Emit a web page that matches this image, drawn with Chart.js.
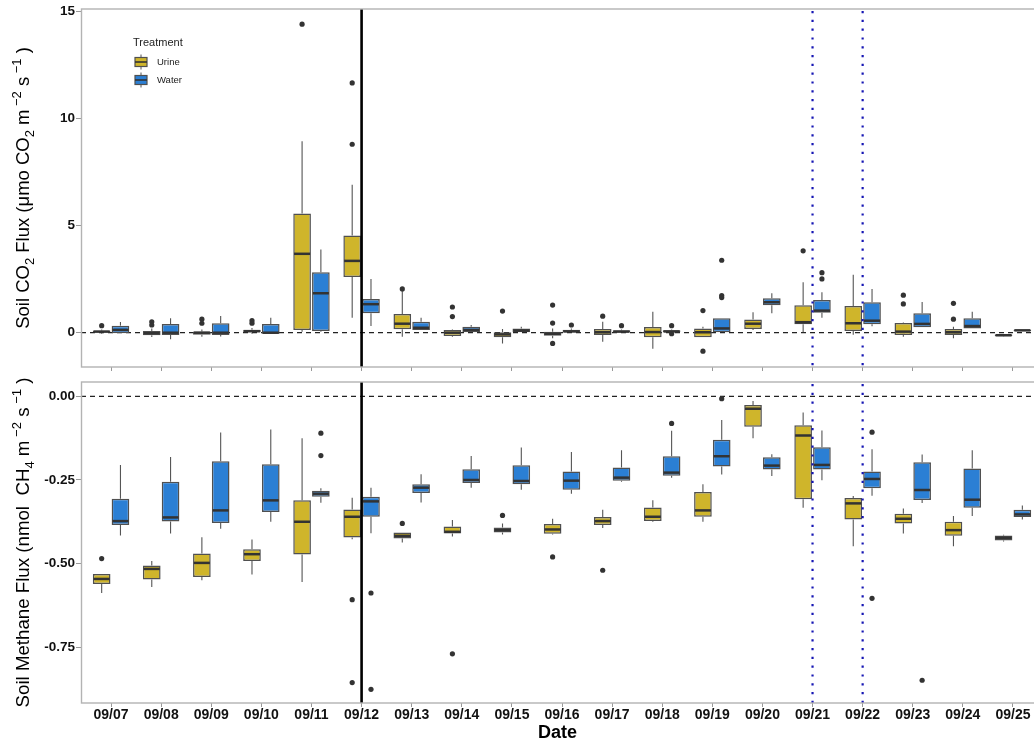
<!DOCTYPE html>
<html>
<head>
<meta charset="utf-8">
<script src="https://cdn.jsdelivr.net/npm/chart.js@4.4.1/dist/chart.umd.min.js"></script>
<style>
  body { margin: 0; background: #fff; }
  #wrap { position: relative; width: 1034px; height: 744px; overflow: hidden; }
  canvas { position: absolute; left: 0; }
</style>
</head>
<body>
<div id="wrap">
  <canvas id="co2" width="1034" height="372" style="top:0"></canvas>
  <canvas id="ch4" width="1034" height="372" style="top:372px"></canvas>
</div>
<script>
const dates = ['09/07','09/08','09/09','09/10','09/11','09/12','09/13','09/14','09/15','09/16',
               '09/17','09/18','09/19','09/20','09/21','09/22','09/23','09/24','09/25'];
const treatments = ['Urine', 'Water'];
const co2Ticks = [0, 5, 10, 15];
const ch4Ticks = [0, -0.25, -0.5, -0.75];
const solidLineDates = ['09/12'];
const dottedLineDates = ['09/21', '09/22'];

// each entry: [lower whisker, q1, median, q3, upper whisker]
const co2Urine = [
  [-0.05, 0, 0.05, 0.1, 0.15], [-0.2, -0.12, -0.02, 0.08, 0.2], [-0.19, -0.09, 0, 0.06, 0.15],
  [-0.05, 0, 0.07, 0.14, 0.22], [0.05, 0.13, 3.68, 5.56, 8.93], [0.7, 2.6, 3.35, 4.53, 6.9],
  [-0.19, 0.16, 0.42, 0.87, 1.95], [-0.19, -0.15, 0, 0.13, 0.15], [-0.5, -0.21, -0.08, 0.02, 0.17],
  [-0.26, -0.14, -0.05, 0.05, 0.2], [-0.42, -0.11, 0.02, 0.17, 0.51], [-0.75, -0.21, 0.03, 0.27, 0.98],
  [-0.21, -0.21, 0.02, 0.2, 0.28], [0.13, 0.17, 0.42, 0.61, 0.95], [0.02, 0.39, 0.49, 1.28, 2.35],
  [-0.1, 0.08, 0.44, 1.25, 2.7], [-0.19, -0.11, 0.05, 0.45, 0.48], [-0.26, -0.11, 0.02, 0.17, 0.28],
  [-0.17, -0.15, -0.12, -0.08, -0.06]
];
const co2UrineOut = [[0.33], [0.51, 0.36], [0.63, 0.44], [0.56, 0.44], [14.39], [11.65, 8.79],
  [2.04], [1.2, 0.75], [1.01], [1.29, 0.45, -0.5], [0.77], [], [1.03, -0.86], [], [3.82], [],
  [1.75, 1.34], [1.37, 0.63], []];
const co2Water = [
  [-0.03, -0.03, 0.13, 0.33, 0.5], [-0.31, -0.11, 0, 0.41, 0.67], [-0.18, -0.11, 0, 0.44, 0.78],
  [-0.06, -0.05, 0, 0.41, 0.7], [0.05, 0.08, 1.84, 2.82, 3.88], [0.31, 0.91, 1.33, 1.57, 2.5],
  [0.13, 0.13, 0.23, 0.51, 0.7], [0.02, 0.02, 0.13, 0.28, 0.36], [0.02, 0.02, 0.1, 0.2, 0.28],
  [0, 0, 0.06, 0.14, 0.2], [0, 0, 0.05, 0.11, 0.15], [0, 0, 0.06, 0.11, 0.15],
  [0, 0, 0.2, 0.67, 0.67], [0.91, 1.28, 1.42, 1.61, 1.84], [0.7, 0.93, 1.03, 1.53, 1.89],
  [0.3, 0.39, 0.56, 1.42, 2.04], [0.25, 0.25, 0.41, 0.91, 1.43], [0.2, 0.2, 0.31, 0.67, 0.98],
  [0.08, 0.08, 0.11, 0.14, 0.14]
];
const co2WaterOut = [[], [], [], [], [], [], [], [], [], [0.36], [0.33], [0.33, -0.05],
  [3.38, 1.73, 1.64], [], [2.8, 2.51], [], [], [], []];

const ch4Urine = [
  [-0.588, -0.561, -0.546, -0.531, -0.531], [-0.57, -0.548, -0.516, -0.506, -0.492],
  [-0.55, -0.54, -0.498, -0.47, -0.421], [-0.533, -0.492, -0.472, -0.457, -0.428],
  [-0.555, -0.473, -0.375, -0.311, -0.125], [-0.427, -0.422, -0.36, -0.338, -0.303],
  [-0.437, -0.425, -0.417, -0.407, -0.407], [-0.419, -0.41, -0.405, -0.389, -0.37],
  [-0.413, -0.407, -0.4, -0.392, -0.38], [-0.413, -0.411, -0.398, -0.382, -0.366],
  [-0.394, -0.385, -0.373, -0.361, -0.339], [-0.375, -0.373, -0.36, -0.332, -0.311],
  [-0.375, -0.36, -0.341, -0.286, -0.263], [-0.125, -0.091, -0.037, -0.026, -0.014],
  [-0.333, -0.308, -0.117, -0.086, -0.048], [-0.448, -0.368, -0.32, -0.304, -0.298],
  [-0.41, -0.38, -0.366, -0.351, -0.335], [-0.448, -0.417, -0.4, -0.375, -0.358],
  [-0.434, -0.431, -0.423, -0.416, -0.414]
];
const ch4UrineOut = [[-0.485], [], [], [], [], [-0.608, -0.856], [-0.38], [-0.77], [-0.356],
  [-0.48], [-0.52], [], [], [], [], [], [], [], []];
const ch4Water = [
  [-0.416, -0.385, -0.373, -0.306, -0.205], [-0.41, -0.374, -0.362, -0.255, -0.181],
  [-0.396, -0.379, -0.341, -0.194, -0.108], [-0.375, -0.346, -0.311, -0.203, -0.099],
  [-0.318, -0.3, -0.291, -0.282, -0.275], [-0.409, -0.36, -0.314, -0.3, -0.273],
  [-0.317, -0.289, -0.273, -0.263, -0.233], [-0.273, -0.259, -0.25, -0.218, -0.178],
  [-0.279, -0.263, -0.253, -0.206, -0.153], [-0.291, -0.279, -0.252, -0.225, -0.166],
  [-0.255, -0.252, -0.243, -0.213, -0.161], [-0.243, -0.237, -0.228, -0.179, -0.103],
  [-0.234, -0.21, -0.179, -0.13, -0.071], [-0.238, -0.219, -0.207, -0.182, -0.173],
  [-0.251, -0.219, -0.205, -0.152, -0.102], [-0.297, -0.275, -0.247, -0.225, -0.158],
  [-0.319, -0.31, -0.28, -0.197, -0.174], [-0.358, -0.333, -0.309, -0.216, -0.161],
  [-0.368, -0.361, -0.353, -0.339, -0.326]
];
const ch4WaterOut = [[], [], [], [], [-0.11, -0.177], [-0.588, -0.876], [], [], [], [], [],
  [-0.081], [-0.007], [], [], [-0.107, -0.604], [-0.849], [], []];

const FONT = '"Liberation Sans", Arial, sans-serif';
const fills = ['#cfb52b', '#2b7fd4'];

function boxDataset(label, stats, outliers, color) {
  return {
    label: label,
    stats: stats,
    outliers: outliers,
    data: stats.map((s, i) => ({ x: i + 1, y: [s[1], s[3]] })),
    backgroundColor: color,
    borderColor: '#505050',
    borderWidth: 1.5,
    borderSkipped: false,
    categoryPercentage: 0.75,
    barPercentage: 0.94
  };
}

// draws text pieces with sub/superscripts along the current x direction, centred on 0
function drawRich(ctx, parts, size) {
  let total = 0;
  const items = parts.map(p => {
    const fs = (p.sub || p.sup) ? size * 0.7 : size;
    ctx.font = fs + 'px ' + FONT;
    const w = ctx.measureText(p.t).width;
    total += w;
    return { p, fs, w };
  });
  let x = -total / 2;
  items.forEach(({ p, fs, w }) => {
    ctx.font = fs + 'px ' + FONT;
    const dy = p.sub ? size * 0.25 : (p.sup ? -size * 0.45 : 0);
    ctx.fillText(p.t, x, dy);
    x += w;
  });
}

const boxPlugin = {
  id: 'boxplot',
  beforeDatasetsDraw(chart) {
    const { ctx, chartArea: a, scales: { y } } = chart;
    ctx.save();
    // zero reference line
    const y0 = y.getPixelForValue(0);
    ctx.strokeStyle = '#222';
    ctx.lineWidth = 1.2;
    ctx.setLineDash([5, 4]);
    ctx.beginPath(); ctx.moveTo(a.left, y0); ctx.lineTo(a.right, y0); ctx.stroke();
    ctx.setLineDash([]);
    // whiskers
    ctx.strokeStyle = '#555';
    ctx.lineWidth = 1.1;
    chart.data.datasets.forEach((ds, di) => {
      chart.getDatasetMeta(di).data.forEach((bar, i) => {
        const s = ds.stats[i];
        ctx.beginPath();
        ctx.moveTo(bar.x, y.getPixelForValue(s[0])); ctx.lineTo(bar.x, y.getPixelForValue(s[1]));
        ctx.moveTo(bar.x, y.getPixelForValue(s[3])); ctx.lineTo(bar.x, y.getPixelForValue(s[4]));
        ctx.stroke();
      });
    });
    ctx.restore();
  },
  afterDatasetsDraw(chart) {
    const { ctx, chartArea: a, scales: { x, y } } = chart;
    ctx.save();
    chart.data.datasets.forEach((ds, di) => {
      chart.getDatasetMeta(di).data.forEach((bar, i) => {
        const s = ds.stats[i];
        const half = bar.width / 2;
        const ym = y.getPixelForValue(s[2]);
        ctx.strokeStyle = '#333';
        ctx.lineWidth = 2.5;
        ctx.beginPath(); ctx.moveTo(bar.x - half + 0.8, ym); ctx.lineTo(bar.x + half - 0.8, ym); ctx.stroke();
        ctx.fillStyle = '#333';
        ds.outliers[i].forEach(v => {
          ctx.beginPath(); ctx.arc(bar.x, y.getPixelForValue(v), 2.6, 0, Math.PI * 2); ctx.fill();
        });
      });
    });
    // event lines
    ctx.strokeStyle = '#000';
    ctx.lineWidth = 2.6;
    solidLineDates.forEach(d => {
      const px = x.getPixelForValue(dates.indexOf(d) + 1);
      ctx.beginPath(); ctx.moveTo(px, a.top); ctx.lineTo(px, a.bottom); ctx.stroke();
    });
    ctx.strokeStyle = '#1616b4';
    ctx.lineWidth = 2.2;
    ctx.setLineDash([2.2, 6.6]);
    dottedLineDates.forEach(d => {
      const px = x.getPixelForValue(dates.indexOf(d) + 1);
      ctx.beginPath(); ctx.moveTo(px, a.top + 2); ctx.lineTo(px, a.bottom); ctx.stroke();
    });
    ctx.setLineDash([]);
    // panel border (right side falls off the canvas)
    ctx.strokeStyle = '#b3b3b3';
    ctx.lineWidth = 1.4;
    ctx.strokeRect(a.left + 0.5, a.top, a.right - a.left + 20, a.bottom - a.top);
    ctx.restore();
  },
  afterDraw(chart, args, opts) {
    const { ctx, chartArea: a } = chart;
    ctx.save();
    ctx.fillStyle = '#000';
    ctx.textBaseline = 'alphabetic';
    ctx.translate(29, (a.top + a.bottom) / 2);
    ctx.rotate(-Math.PI / 2);
    drawRich(ctx, opts.title, opts.titleSize);
    ctx.restore();

    if (!opts.legend) return;
    ctx.save();
    ctx.fillStyle = '#222';
    ctx.textBaseline = 'middle';
    ctx.font = '11px ' + FONT;
    ctx.fillText('Treatment', 133, 43);
    treatments.forEach((t, k) => {
      const cy = 62 + 18 * k;
      ctx.strokeStyle = '#555';
      ctx.lineWidth = 1;
      ctx.beginPath();
      ctx.moveTo(141, cy - 7.5); ctx.lineTo(141, cy + 7.5);
      ctx.stroke();
      ctx.fillStyle = fills[k];
      ctx.fillRect(135, cy - 4.5, 12, 9);
      ctx.strokeStyle = '#505050';
      ctx.lineWidth = 1.2;
      ctx.strokeRect(135, cy - 4.5, 12, 9);
      ctx.strokeStyle = '#333';
      ctx.lineWidth = 1.6;
      ctx.beginPath(); ctx.moveTo(135, cy); ctx.lineTo(147, cy); ctx.stroke();
      ctx.fillStyle = '#222';
      ctx.font = '9.5px ' + FONT;
      ctx.fillText(t, 157, cy);
    });
    ctx.restore();
  }
};

function makePanel(id, opt) {
  const ctx = document.getElementById(id).getContext('2d');
  new Chart(ctx, {
    type: 'bar',
    data: {
      datasets: [
        boxDataset('Urine', opt.urine, opt.urineOut, fills[0]),
        boxDataset('Water', opt.water, opt.waterOut, fills[1])
      ]
    },
    plugins: [boxPlugin],
    options: {
      responsive: false,
      animation: false,
      events: [],
      layout: { padding: { top: opt.padTop, left: 0, right: 0, bottom: 0 } },
      plugins: {
        legend: { display: false },
        tooltip: { enabled: false },
        boxplot: { title: opt.title, titleSize: opt.titleSize, legend: opt.legend }
      },
      scales: {
        x: {
          type: 'linear',
          offset: false,
          min: 0.4,
          max: 19.42,
          afterBuildTicks: s => { s.ticks = dates.map((d, i) => ({ value: i + 1 })); },
          afterFit: s => { s.height = opt.xHeight; s.paddingLeft = 0; s.paddingRight = 0; },
          grid: { display: true, drawOnChartArea: false, offset: false, tickLength: 4, color: '#999' },
          border: { display: false },
          ticks: {
            display: opt.showDates,
            autoSkip: false,
            maxRotation: 0,
            padding: 0,
            color: '#111',
            font: { family: FONT, size: 14, weight: 'bold' },
            callback: v => dates[Math.round(v) - 1]
          },
          title: {
            display: opt.showDates,
            text: 'Date',
            color: '#000',
            padding: { top: 0, bottom: 0 },
            font: { family: FONT, size: 18, weight: 'bold' }
          }
        },
        y: {
          min: opt.yMin,
          max: opt.yMax,
          afterBuildTicks: s => { s.ticks = opt.ticks.map(v => ({ value: v })); },
          afterFit: s => { s.width = 81; s.paddingTop = 0; s.paddingBottom = 0; },
          grid: { display: true, drawOnChartArea: false, tickLength: 5, color: '#999' },
          border: { display: false },
          ticks: {
            padding: 1,
            color: '#111',
            font: { family: FONT, size: 13.5, weight: 'bold' },
            callback: opt.fmt
          }
        }
      }
    }
  });
}

makePanel('co2', {
  urine: co2Urine, urineOut: co2UrineOut, water: co2Water, waterOut: co2WaterOut,
  yMin: -1.6, yMax: 15.1, ticks: co2Ticks, fmt: v => String(v),
  padTop: 9, xHeight: 5, showDates: false, legend: true, titleSize: 18.5,
  title: [{ t: 'Soil CO' }, { t: '2', sub: true }, { t: ' Flux (\u03bcmo CO' }, { t: '2', sub: true },
          { t: ' m' }, { t: ' \u22122', sup: true }, { t: ' s' }, { t: ' \u22121', sup: true }, { t: ' )' }]
});

makePanel('ch4', {
  urine: ch4Urine, urineOut: ch4UrineOut, water: ch4Water, waterOut: ch4WaterOut,
  yMin: -0.917, yMax: 0.043, ticks: ch4Ticks, fmt: v => v.toFixed(2),
  padTop: 10, xHeight: 41, showDates: true, legend: false, titleSize: 18.7,
  title: [{ t: 'Soil Methane Flux (nmol  CH' }, { t: '4', sub: true }, { t: ' m' }, { t: ' \u22122', sup: true },
          { t: ' s' }, { t: ' \u22121', sup: true }, { t: ' )' }]
});
</script>
</body>
</html>
